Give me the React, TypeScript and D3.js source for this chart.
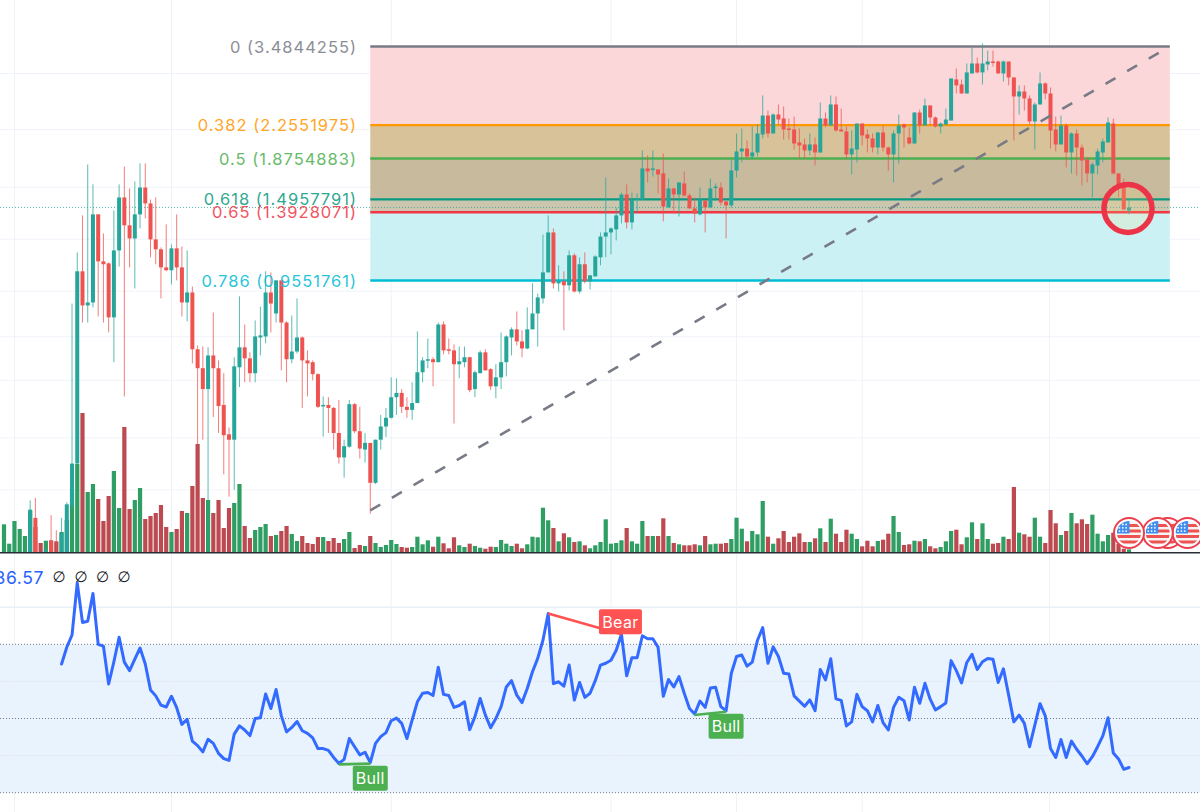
import React from "react";
import * as d3 from "d3";

const W = 1200, H = 812;

const opens = [
.203,.203,.203,.203,.203,.212,.257,.207,.207,.226,
.212,.212,.212,.275,.347,1.005,.832,.846,1.377,1.062,
1.050,.779,1.128,1.512,1.296,1.205,1.377,1.597,1.463,1.199,
1.135,1.027,1.011,1.141,1.027,.846,.894,.653,.588,.524,
.631,.588,.480,.408,.396,.591,.660,.621,.572,.697,
.701,.894,.796,.956,.757,.618,.645,.697,.614,.608,
.569,.477,.480,.472,.411,.359,.381,.482,.415,.375,
.389,.312,.396,.426,.447,.501,.513,.475,.467,.485,
.575,.614,.618,.608,.749,.653,.649,.601,.608,.625,
.524,.572,.642,.585,.532,.559,.608,.697,.729,.682,
.656,.729,.796,.865,.999,1.246,.940,.951,.930,1.098,
.899,1.045,.951,.977,1.086,1.218,1.246,1.267,1.369,1.537,
1.317,1.495,1.495,1.775,1.765,1.765,1.727,1.431,1.589,1.537,
1.634,1.529,1.423,1.377,1.487,1.431,1.597,1.597,1.479,1.447,
1.755,1.950,1.982,1.896,1.939,2.142,2.379,2.154,2.392,2.340,
2.214,2.202,2.050,2.027,1.961,2.027,1.939,2.340,2.251,2.529,
2.202,2.178,1.918,1.971,2.276,2.142,2.095,1.993,2.166,1.993,
1.918,2.154,2.264,2.107,2.038,2.419,2.251,2.515,2.353,2.239,
2.264,2.314,2.904,2.825,2.687,3.002,3.172,3.019,3.155,3.207,
3.207,3.002,3.207,2.936,2.643,2.717,2.614,2.302,2.529,2.841,
2.687,2.202,2.027,2.251,1.939,2.154,1.993,1.865,1.727,1.805,
1.939,2.050,2.276,1.727,1.634,1.407];

const closes = [
.208,.208,.208,.208,.208,.269,.212,.204,.215,.212,
.207,.236,.277,.347,1.005,.832,.846,1.377,1.062,1.045,
.779,1.128,1.512,1.296,1.205,1.377,1.597,1.463,1.199,1.135,
1.027,1.011,1.141,1.027,.846,.894,.653,.588,.524,.631,
.588,.477,.406,.396,.594,.660,.621,.572,.701,.705,
.894,.841,.956,.757,.618,.645,.697,.614,.604,.569,
.475,.480,.472,.411,.359,.382,.482,.415,.377,.389,
.312,.396,.426,.447,.501,.513,.475,.467,.485,.575,
.614,.618,.608,.749,.649,.649,.601,.611,.625,.521,
.575,.642,.581,.532,.559,.608,.701,.729,.682,.656,
.729,.796,.870,.999,1.246,.940,.951,.930,1.098,.899,
1.045,.951,.983,1.091,1.218,1.246,1.274,1.369,1.537,1.317,
1.495,1.504,1.775,1.746,1.775,1.717,1.438,1.589,1.537,1.643,
1.529,1.423,1.384,1.495,1.431,1.589,1.606,1.471,1.447,1.755,
1.950,1.982,1.896,1.939,2.154,2.379,2.154,2.392,2.327,2.202,
2.202,2.038,2.016,1.961,2.027,1.939,2.340,2.251,2.529,2.190,
2.178,1.918,1.982,2.276,2.130,2.095,1.993,2.166,1.993,1.918,
2.154,2.251,2.227,2.038,2.419,2.251,2.515,2.353,2.239,2.276,
2.327,2.920,2.810,2.687,3.019,3.172,3.019,3.172,3.207,3.190,
3.002,3.207,2.936,2.643,2.717,2.614,2.302,2.529,2.841,2.687,
2.190,2.027,2.251,1.939,2.154,1.993,1.855,1.727,1.815,1.950,
2.061,2.289,1.727,1.597,1.415,1.431];

const highs = [
.209,.209,.209,.209,.209,.283,.287,.208,.217,.261,
.240,.257,.280,.841,1.116,1.369,1.815,1.625,1.377,1.239,
1.056,1.407,1.625,1.794,1.589,1.652,1.825,1.825,1.495,1.512,
1.147,1.303,1.166,1.377,1.153,1.128,.924,.667,.663,.660,
.800,.614,.572,.424,.625,.875,.749,.642,.766,.827,
1.005,.999,.956,.956,.762,.787,.865,.701,.649,.614,
.572,.503,.501,.475,.493,.396,.493,.485,.475,.411,
.389,.396,.454,.472,.559,.556,.524,.501,.544,.721,
.625,.693,.625,.757,.762,.693,.671,.663,.663,.625,
.581,.649,.653,.588,.601,.717,.705,.737,.805,.725,
.823,.940,.889,1.232,1.369,1.274,1.039,1.005,1.128,1.110,
1.086,1.116,.983,1.098,1.246,1.689,1.281,1.431,1.554,1.625,
1.554,1.546,1.961,1.907,1.961,1.765,1.928,1.679,1.597,1.643,
1.746,1.546,1.512,1.597,1.487,1.679,1.634,1.643,1.487,1.865,
2.154,2.214,2.072,2.239,2.264,2.658,2.446,2.406,2.529,2.501,
2.340,2.366,2.214,2.095,2.154,2.107,2.557,2.419,2.658,2.643,
2.473,2.239,2.190,2.276,2.276,2.202,2.154,2.166,2.251,2.004,
2.190,2.392,2.276,2.227,2.419,2.459,2.614,2.515,2.366,2.289,
2.473,2.920,3.086,2.904,3.172,3.465,3.279,3.542,3.408,3.408,
3.225,3.225,3.207,2.936,2.810,2.810,2.658,2.557,3.019,2.857,
2.778,2.366,2.379,2.276,2.166,2.202,2.027,1.886,1.835,1.982,
2.095,2.353,2.340,1.727,1.679,1.495];

const lows = [
.202,.202,.202,.202,.202,.203,.203,.203,.203,.207,
.203,.207,.207,.268,.347,.757,.757,.823,.783,.757,
.717,.608,1.032,.503,1.027,.914,1.274,1.347,1.086,1.045,
.865,1.005,.935,.956,.783,.762,.604,.385,.396,.212,
.449,.411,.327,.289,.300,.530,.544,.544,.544,.631,
.675,.717,.757,.581,.544,.604,.638,.472,.503,.550,
.472,.403,.411,.375,.347,.321,.379,.411,.357,.349,
.263,.310,.375,.402,.445,.454,.459,.447,.442,.485,
.544,.588,.532,.608,.635,.635,.433,.556,.591,.515,
.501,.572,.581,.521,.498,.524,.562,.631,.667,.625,
.653,.729,.663,.841,.999,.914,.899,.725,.904,.894,
.889,.940,.909,.977,1.039,1.086,1.104,1.192,1.310,1.274,
1.267,1.392,1.487,1.643,1.698,1.546,1.325,1.431,1.384,1.361,
1.520,1.423,1.317,1.369,1.246,1.431,1.487,1.447,1.205,1.431,
1.689,1.835,1.876,1.865,1.896,2.095,2.107,2.154,2.264,2.084,
2.084,1.971,1.876,1.876,1.907,1.805,1.939,2.227,2.251,2.178,
2.178,1.876,1.717,1.835,2.016,1.939,1.939,1.918,1.950,1.755,
1.643,1.825,1.993,2.027,2.038,2.154,2.251,2.251,2.227,2.154,
2.251,2.314,2.687,2.687,2.687,3.002,3.002,2.825,3.052,3.120,
3.002,2.872,2.810,2.072,2.392,2.446,2.264,1.971,2.529,2.600,
1.982,1.950,2.027,1.785,1.727,1.708,1.616,1.643,1.512,1.717,
1.835,2.050,1.717,1.512,1.407,1.377];

const volumes = [
27.7,8.3,31,23,16,41,25,9,11.3,11.7,
10.7,20,32,63,88,139,60,68,53,31,
56,81,44,125,43,52,64,33,36,39,
47,25,20,23,41,39,66,108,54,52,
39,52,24,44,49,68,26,14,22,25,
28,16,17,21,26,18,11,16,9,8,
15,15,11,14,9,13,20,4,7,6,
16,9,5,7,12,8,5,4.3,5,15.3,
7.7,11.7,5.3,15.3,8.7,3.7,14.7,6.7,5,8.3,
6,4.3,3.3,5.3,5,12,8.3,6,8.3,3.7,
7.7,15.3,14.7,44.3,31.7,24,10.7,18.7,14.7,10,
10.7,6.7,3.7,6.7,10,32.7,8.3,9,11.7,24,
10.7,8.3,31,16,16,16,33.7,16,9,7.7,
6.7,6.7,7.7,6.7,16,7.7,8.3,8.3,9,13,
34.3,23.3,10.7,21,17.7,51,15.3,8.3,13.7,21,
10,15.3,18.7,10,10,13.7,23.7,10,33.3,18.3,
10,22.3,18.3,13,5.7,11.3,5.7,11,12.3,18.3,
36,20,7,7.7,11.3,10.7,13,5.7,3.7,5,
10.7,21,22.3,7.7,14.7,29.7,13,28.7,13,8.3,
9,15.3,13,65,19.3,17.7,15.3,34.3,15.3,9,
42,28.7,17,21,39,28.7,32.7,28,37.3,18.3,
10.7,17,19.3,8,3.3,2.7];

const rsiStart = 11;
const rsiValues = [
64.7,69.2,72.5,86.57,75.9,76.2,83.7,70,69.5,
59.3,65.3,71.9,65.2,62.9,66,69,64.7,57.7,56.1,
53.6,53.1,56,52.9,48.4,49.8,43.9,42.7,41,44.4,
43.3,40.6,39.2,38.7,45.8,48,46.9,45.4,50,50.2,
56.6,52.7,57.8,50.7,46.4,47.6,49.2,46.7,46,44.8,
41.9,41.9,41.4,39.5,37.9,39,44.6,42.4,40.2,40.9,
38.1,43.3,45.1,46.2,49.4,50.1,48.7,44.6,49.6,54.5,
56.8,57,56.2,63.8,56.5,56.2,53,53.5,54.5,47,
50.5,55.4,50.9,47.5,50,53.2,58.5,60.2,56.3,54.3,
58.1,62.6,66.2,71.1,78.3,59.4,59.9,58.7,64.4,55,
59.7,55.7,56.8,60.2,64.4,64.9,65.7,68.4,72.7,61.5,
66.4,66.4,72.3,71.5,71.5,69.2,56,60.5,58.5,61.3,
56.8,52.7,51.2,54.7,53,58.2,58.4,53.2,52.1,62.2,
66.7,67.1,64.1,65.2,71.1,74.5,64.9,69.3,66.7,62.2,
62,56.1,54.7,53.3,55,52.1,63.2,60.4,66.1,55.3,
54.9,48,49.1,56.5,53.2,52.1,49.1,53.5,48.9,46.9,
53,55.7,54.8,49.6,58.4,54.1,59.5,55.2,52.3,53.2,
54.2,65.6,62.9,59.6,65.1,67.3,63.2,65.3,66.2,66,
59.7,63.4,56.3,49.1,50.9,48.7,42.4,48.2,54,50.7,
41.9,39.5,44.3,39.5,43.9,41.7,39.9,37.8,39.7,42.4,
45.3,50.2,40.7,39.1,36.3,36.8];

const fibLevels = [
  { ratio: "0", price: 3.4844255, color: "#787b86" },
  { ratio: "0.382", price: 2.2551975, color: "#ff9800" },
  { ratio: "0.5", price: 1.8754883, color: "#4caf50" },
  { ratio: "0.618", price: 1.4957791, color: "#089981" },
  { ratio: "0.65", price: 1.3928071, color: "#f23645" },
  { ratio: "0.786", price: 0.9551761, color: "#00bcd4" },
];
const fibBandFills = ["#fcd7da", "#d8c299", "#c8ba9c", "#cdc6ae", "#cbf1f4"];
const fibStartIdx = 70, fibEndIdx = 222.8;
const trendStart = { idx: 70, price: 0.268 };
const trendEnd = { idx: 222.8, price: 3.4844255 };

const gridPrices = [3, 2.2, 1.6, 1.2, 0.9, 0.7, 0.55, 0.4, 0.3];
const gridIdx = [2, 32, 74, 116, 140, 164, 199.8];
const rsiGrid = [80, 60, 40];
const rsiBands = [70, 50, 30];
const flagIdx = [222.4, 226.2, 220.5, 215];
const divergences = [
  { from: 64, to: 70, color: "#4caf50", label: "Bull" },
  { from: 104, to: 118, color: "#ff5252", label: "Bear" },
  { from: 132, to: 138, color: "#4caf50", label: "Bull" },
];

const x = d3.scaleLinear().domain([0, 215]).range([4, 1129]);
const y = d3.scaleLog().domain([3.4844255, 0.9551761]).range([46.5, 280.5]);
const yVol = d3.scaleLinear().domain([0, 140]).range([552, 412]);
const yRsi = d3.scaleLinear().domain([70, 30]).range([644.3, 792.7]);

const UP = "#26a69a", DOWN = "#ef5350", VUP = "#2f9e63", VDOWN = "#bc4a50", BLUE = "#2962ff";
const FONT = "Inter, 'Noto Sans', sans-serif";

function Flag({ cx, cy }: { cx: number; cy: number }) {
  const id = `c${Math.round(cx)}`;
  const stripes = [-9, -3.5, 2, 7.5];
  const dots: [number, number][] = [];
  for (let r = 0; r < 3; r++) for (let c = 0; c < 3; c++) dots.push([cx - 9.5 + c * 3.3, cy - 8.5 + r * 3.3]);
  return (
    <g>
      <circle cx={cx} cy={cy} r={15} fill="#fff" stroke="#ec3f4e" strokeWidth={2} />
      <clipPath id={id}><circle cx={cx} cy={cy} r={12} /></clipPath>
      <g clipPath={`url(#${id})`}>
        <rect x={cx - 12} y={cy - 12} width={24} height={24} fill="#f5f5f5" />
        {stripes.map((s) => (
          <rect key={s} x={cx - 12} y={cy + s} width={24} height={3} fill="#ef5350" />
        ))}
        <rect x={cx - 12} y={cy - 12} width={12.5} height={12.5} fill="#3f8ef0" />
        {dots.map(([a, b], k) => <circle key={k} cx={a} cy={b} r={0.9} fill="#fff" />)}
      </g>
    </g>
  );
}

function Badge({ cx, top, label, color }: { cx: number; top: number; label: string; color: string }) {
  const w = label === "Bear" ? 43 : 35;
  return (
    <g>
      <rect x={cx - w / 2} y={top} width={w} height={25} rx={2} fill={color} />
      <text x={cx} y={top + 12.5} fill="#fff" fontSize={16} letterSpacing={0.3} fontFamily={FONT} textAnchor="middle" dominantBaseline="central">{label}</text>
    </g>
  );
}

export default function App() {
  const n = opens.length;
  const lastPrice = closes[n - 1];
  const rsiLine = d3.line<number>().x((_, i) => x(i + rsiStart)).y((d) => yRsi(d));
  const rsiAt = (i: number) => rsiValues[i - rsiStart];
  const fx0 = x(fibStartIdx), fx1 = x(fibEndIdx);
  return (
    <svg width={W} height={H} viewBox={`0 0 ${W} ${H}`} style={{ position: "absolute", left: 0, top: 0, background: "#fff" }}>
      <defs>
        <clipPath id="mainPane"><rect x={0} y={0} width={W} height={552} /></clipPath>
      </defs>
      {gridPrices.map((p) => <line key={p} x1={0} x2={W} y1={y(p)} y2={y(p)} stroke="#f0f3fa" />)}
      {rsiGrid.map((r) => <line key={r} x1={0} x2={W} y1={yRsi(r)} y2={yRsi(r)} stroke="#f0f3fa" />)}
      <rect x={0} width={W} y={yRsi(70)} height={yRsi(30) - yRsi(70)} fill="#e8f3fd" />
      {rsiGrid.map((r) => <line key={`b${r}`} x1={0} x2={W} y1={yRsi(r)} y2={yRsi(r)} stroke="#e3ecf6" />)}
      {gridIdx.map((g) => <line key={g} x1={x(g)} x2={x(g)} y1={0} y2={H} stroke="#eef1f7" />)}
      {fibBandFills.map((fill, k) => (
        <rect key={k} x={fx0} width={fx1 - fx0} y={y(fibLevels[k].price)} height={y(fibLevels[k + 1].price) - y(fibLevels[k].price)} fill={fill} />
      ))}
      <g>
        {volumes.map((v, i) => (
          <rect key={i} x={x(i) - 2.1} width={4.2} y={yVol(v)} height={552 - yVol(v)} fill={closes[i] >= opens[i] ? VUP : VDOWN} />
        ))}
      </g>
      {fibLevels.map((f) => (
        <line key={f.ratio} x1={fx0} x2={fx1} y1={y(f.price)} y2={y(f.price)} stroke={f.color} strokeWidth={2.4} />
      ))}
      <line x1={0} x2={W} y1={y(lastPrice)} y2={y(lastPrice)} stroke="#26a69a" strokeWidth={1} strokeDasharray="1 2" opacity={0.8} />
      <g clipPath="url(#mainPane)">
        {opens.map((o, i) => {
          const c = closes[i];
          const col = c >= o ? UP : DOWN;
          const t = y(Math.max(o, c)), b = y(Math.min(o, c));
          return (
            <g key={i}>
              <line x1={x(i)} x2={x(i)} y1={y(highs[i])} y2={y(lows[i])} stroke={col} strokeWidth={1} opacity={0.75} />
              <rect x={x(i) - 2} width={4} y={t} height={Math.max(b - t, 1.5)} fill={col} />
            </g>
          );
        })}
      </g>
      <line x1={x(trendStart.idx)} y1={y(trendStart.price)} x2={x(trendEnd.idx)} y2={y(trendEnd.price)} stroke="#787b86" strokeWidth={2.6} strokeDasharray="11.5 13.5" />
      {fibLevels.map((f) => (
        <text key={f.ratio} x={357} y={y(f.price)} fill={f.color} opacity={0.85} fontSize={16.5} letterSpacing={1} fontFamily={FONT} textAnchor="end" dominantBaseline="central">
          {`${f.ratio} (${f.price})`}
        </text>
      ))}
      <circle cx={x(215) - 1} cy={y(1.423)} r={24} fill="rgba(255,225,110,0.16)" stroke="#ec3347" strokeWidth={5.5} />
      <line x1={0} x2={W} y1={552.7} y2={552.7} stroke="#2a2e39" strokeWidth={1.5} />
      {flagIdx.map((f) => <Flag key={f} cx={x(f)} cy={533} />)}
      {rsiBands.map((r) => (
        <line key={r} x1={0} x2={W} y1={yRsi(r)} y2={yRsi(r)} stroke="#787b86" strokeWidth={1} strokeDasharray="1 2" />
      ))}
      <path d={rsiLine(rsiValues) ?? ""} fill="none" stroke={BLUE} strokeWidth={3} opacity={0.95} strokeLinejoin="round" strokeLinecap="round" />
      {divergences.map((d, k) => (
        <line key={k} x1={x(d.from)} y1={yRsi(rsiAt(d.from)) + (d.label === "Bull" ? 1 : 0)} x2={x(d.to)} y2={yRsi(rsiAt(d.to)) + (d.label === "Bull" ? 1 : 0)} stroke={d.color} strokeWidth={2.6} />
      ))}
      {divergences.map((d, k) => (
        <Badge key={k} cx={x(d.to) + (d.label === "Bear" ? -1 : 0)} top={yRsi(rsiAt(d.to)) + (d.label === "Bear" ? -25 : 3)} label={d.label} color={d.color} />
      ))}
      <text x={44} y={577} fill={BLUE} fontSize={17.5} letterSpacing={0.6} fontFamily={FONT} textAnchor="end" dominantBaseline="central">86.57</text>
      {[59, 81, 102.5, 124].map((t) => (
        <text key={t} x={t} y={577} fill="#131722" fontSize={15} fontFamily="'DejaVu Sans', sans-serif" textAnchor="middle" dominantBaseline="central">∅</text>
      ))}
    </svg>
  );
}
